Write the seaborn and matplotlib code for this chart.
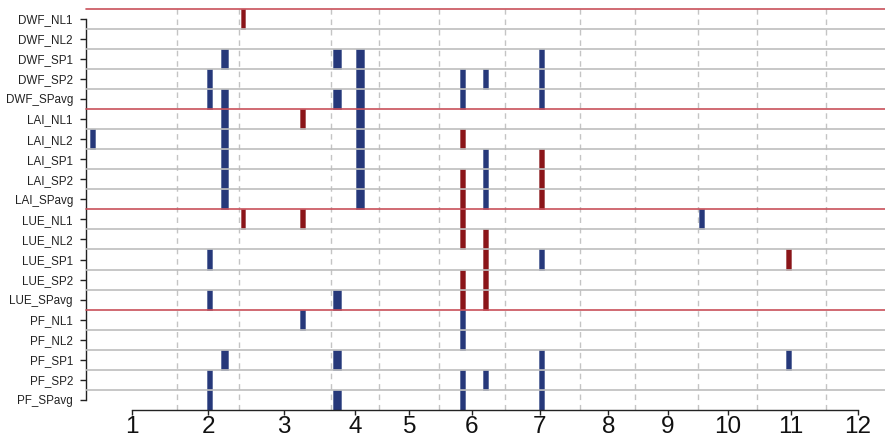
import matplotlib
matplotlib.use("Agg")
import matplotlib.pyplot as plt
import seaborn as sns
import pandas as pd

# ---- data -------------------------------------------------------------
rows = ["DWF_NL1", "DWF_NL2", "DWF_SP1", "DWF_SP2", "DWF_SPavg",
        "LAI_NL1", "LAI_NL2", "LAI_SP1", "LAI_SP2", "LAI_SPavg",
        "LUE_NL1", "LUE_NL2", "LUE_SP1", "LUE_SP2", "LUE_SPavg",
        "PF_NL1", "PF_NL2", "PF_SP1", "PF_SP2", "PF_SPavg"]

tick_labels = ["1", "2", "3", "4", "5", "6", "7", "8", "9", "10", "11", "12"]
tick_values = [131.7, 208.3, 284.3, 355.3, 409.3, 471.7, 540.0, 608.3,
               667.7, 727.7, 791.0, 857.7]
group_bounds = [176.7, 239.3, 330.7, 379.0, 439.3, 505.3, 580.0, 635.0,
                698.3, 756.7, 825.7]

# segments: row label, start, end, sign (pos = blue, neg = red)
seg_row = ["DWF_NL1",
           "DWF_SP1", "DWF_SP1", "DWF_SP1", "DWF_SP1",
           "DWF_SP2", "DWF_SP2", "DWF_SP2", "DWF_SP2", "DWF_SP2",
           "DWF_SPavg", "DWF_SPavg", "DWF_SPavg", "DWF_SPavg", "DWF_SPavg", "DWF_SPavg",
           "LAI_NL1", "LAI_NL1", "LAI_NL1",
           "LAI_NL2", "LAI_NL2", "LAI_NL2", "LAI_NL2",
           "LAI_SP1", "LAI_SP1", "LAI_SP1", "LAI_SP1",
           "LAI_SP2", "LAI_SP2", "LAI_SP2", "LAI_SP2", "LAI_SP2",
           "LAI_SPavg", "LAI_SPavg", "LAI_SPavg", "LAI_SPavg", "LAI_SPavg",
           "LUE_NL1", "LUE_NL1", "LUE_NL1", "LUE_NL1",
           "LUE_NL2", "LUE_NL2",
           "LUE_SP1", "LUE_SP1", "LUE_SP1", "LUE_SP1",
           "LUE_SP2", "LUE_SP2",
           "LUE_SPavg", "LUE_SPavg", "LUE_SPavg", "LUE_SPavg",
           "PF_NL1", "PF_NL1",
           "PF_NL2",
           "PF_SP1", "PF_SP1", "PF_SP1", "PF_SP1",
           "PF_SP2", "PF_SP2", "PF_SP2", "PF_SP2",
           "PF_SPavg", "PF_SPavg", "PF_SPavg", "PF_SPavg"]
seg_x0 = [240.7,
          220.7, 333.3, 356.0, 539.0,
          206.7, 356.0, 460.3, 483.0, 539.0,
          206.7, 220.7, 333.3, 356.0, 460.3, 539.0,
          220.7, 300.0, 356.0,
          90.0, 220.7, 356.0, 460.3,
          220.7, 356.0, 483.0, 539.0,
          220.7, 356.0, 460.3, 483.0, 539.0,
          220.7, 356.0, 460.3, 483.0, 539.0,
          240.7, 300.0, 460.3, 699.0,
          460.3, 483.0,
          206.7, 483.0, 539.0, 785.7,
          460.3, 483.0,
          206.7, 333.3, 460.3, 483.0,
          300.0, 460.3,
          460.3,
          220.7, 333.3, 539.0, 785.7,
          206.7, 460.3, 483.0, 539.0,
          206.7, 333.3, 460.3, 539.0]
seg_x1 = [245.0,
          227.7, 340.7, 364.3, 544.3,
          211.7, 364.3, 465.3, 488.3, 544.3,
          211.7, 227.7, 340.7, 364.3, 465.3, 544.3,
          227.7, 305.0, 364.3,
          94.7, 227.7, 364.3, 465.3,
          227.7, 364.3, 488.3, 544.3,
          227.7, 364.3, 465.3, 488.3, 544.3,
          227.7, 364.3, 465.3, 488.3, 544.3,
          245.0, 305.0, 465.3, 704.3,
          465.3, 488.3,
          211.7, 488.3, 544.3, 790.7,
          465.3, 488.3,
          211.7, 340.7, 465.3, 488.3,
          305.0, 465.3,
          465.3,
          227.7, 340.7, 544.3, 790.7,
          211.7, 465.3, 488.3, 544.3,
          211.7, 340.7, 465.3, 544.3]
seg_sign = ["neg",
            "pos", "pos", "pos", "pos",
            "pos", "pos", "pos", "pos", "pos",
            "pos", "pos", "pos", "pos", "pos", "pos",
            "pos", "neg", "pos",
            "pos", "pos", "pos", "neg",
            "pos", "pos", "pos", "neg",
            "pos", "pos", "neg", "pos", "neg",
            "pos", "pos", "neg", "pos", "neg",
            "neg", "neg", "neg", "pos",
            "neg", "neg",
            "pos", "neg", "pos", "neg",
            "neg", "neg",
            "pos", "pos", "neg", "neg",
            "pos", "pos",
            "pos",
            "pos", "pos", "pos", "pos",
            "pos", "pos", "pos", "pos",
            "pos", "pos", "pos", "pos"]

group_breaks = [4.5, 9.5, 14.5]

# ---- styling ----------------------------------------------------------
sns.set_style("white")
plt.rcParams["font.family"] = ["Liberation Sans", "DejaVu Sans"]

palette = {"pos": "#26387a", "neg": "#8b1519"}
edge = {"pos": "#5b6a9c", "neg": "#a85558"}

df = pd.DataFrame({"row": seg_row, "x0": seg_x0, "x1": seg_x1, "sign": seg_sign})
df["y"] = df["row"].map({r: i for i, r in enumerate(rows)})
df["w"] = df["x1"] - df["x0"]

fig = plt.figure(figsize=(8.85, 4.42), dpi=100)
ax = fig.add_axes([85.7 / 885, 1 - 410 / 442, 1 - 85.7 / 885, (410 - 8.7) / 442])

for s, sub in df.groupby("sign"):
    ax.barh(sub["y"], sub["w"], left=sub["x0"], height=1.0,
            color=palette[s], edgecolor=edge[s], linewidth=0.6, zorder=2)

# vertical dashed separators
for gx in group_bounds:
    ax.axvline(gx, color="#c4c4c4", lw=1.0, ls=(0, (4, 3.5)), zorder=1)

# horizontal row separators
for k in range(len(rows) - 1):
    yb = k + 0.5
    if yb in group_breaks:
        continue
    ax.axhline(yb, color="#bdbdbd", lw=1.2, zorder=3)
for yb in [-0.5] + group_breaks:
    ax.axhline(yb, color="#c8505a", lw=1.2, zorder=3, clip_on=False)

ax.set_xlim(85.7, 885)
ax.set_ylim(len(rows) - 0.5, -0.5)

ax.set_yticks(range(len(rows)))
ax.set_yticklabels(rows, fontsize=8.4, color="#222222")
ax.set_xticks(tick_values)
ax.set_xticklabels(tick_labels, fontsize=17.5, color="#111111")

ax.tick_params(axis="y", left=True, length=4.2, width=1.0, color="#222222", pad=5)
ax.tick_params(axis="x", bottom=True, length=3.6, width=1.0, color="#222222", pad=1)

for side in ["top", "right"]:
    ax.spines[side].set_visible(False)
ax.spines["left"].set_bounds(0, len(rows) - 1)
ax.spines["bottom"].set_bounds(tick_values[0], tick_values[-1])
for side in ["left", "bottom"]:
    ax.spines[side].set_color("#222222")
    ax.spines[side].set_linewidth(1.0)

ax.set_xlabel("")
ax.set_ylabel("")

fig.savefig("out.png", dpi=100)
